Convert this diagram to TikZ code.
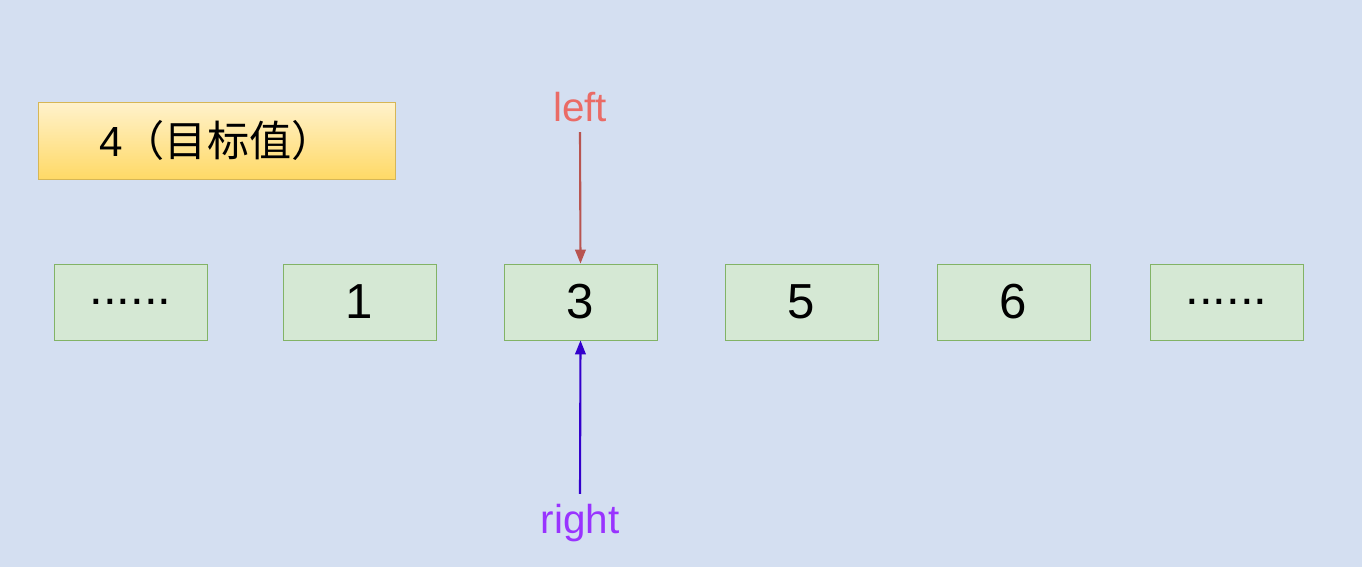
\documentclass[tikz,border=0pt]{standalone}
\usepackage{fontspec}
\setmainfont{Liberation Sans}
\newfontfamily\cjk{Noto Sans CJK SC}
\usetikzlibrary{arrows.meta, positioning, shadings}
\definecolor{bgBlue}{HTML}{D4DFF1}
\definecolor{cellFill}{HTML}{D5E8D4}
\definecolor{cellLine}{HTML}{82B366}
\definecolor{goalTop}{HTML}{FFF2CC}
\definecolor{goalBot}{HTML}{FFD966}
\definecolor{goalLine}{HTML}{D6B656}
\definecolor{leftText}{HTML}{EA6B66}
\definecolor{leftLine}{HTML}{B85450}
\definecolor{rightText}{HTML}{9933FF}
\definecolor{rightLine}{HTML}{3300CC}

\begin{document}
\begin{tikzpicture}[
    x=0.02cm, y=-0.02cm,
    cell/.style={rectangle, draw=cellLine, fill=cellFill, minimum width=3.06cm, minimum height=1.52cm, font=\fontsize{28}{30}\selectfont},
    goal/.style={rectangle, draw=goalLine, top color=goalTop, bottom color=goalBot, minimum width=7.14cm, minimum height=1.54cm, font=\fontsize{24}{26}\selectfont},
    ptr/.style={font=\fontsize{23}{25}\selectfont, inner sep=0pt},
    arrow/.style={-{Triangle[length=8pt,width=6pt]}, line width=1.2pt},
]
    \fill[bgBlue] (0,0) rectangle (1362,567);

    \node[goal] (goal) at (216.5,140.5) {4\cjk（目标值）};

    \node[cell] (c0) at (130.5,302) {......};
    \node[cell] (c1) at (359.5,302) {1};
    \node[cell] (c2) at (580.5,302) {3};
    \node[cell] (c3) at (801.5,302) {5};
    \node[cell] (c4) at (1013.5,302) {6};
    \node[cell] (c5) at (1226.5,302) {......};

    \node[ptr, text=leftText] (left) at (580,107) {left};
    \node[ptr, text=rightText] (right) at (580,523) {right};

    \draw[arrow, leftLine] ([yshift=-0.2cm]left.south) -- (c2.north);
    \draw[arrow, rightLine] ([yshift=0.2cm]right.north) -- (c2.south);
\end{tikzpicture}
\end{document}
